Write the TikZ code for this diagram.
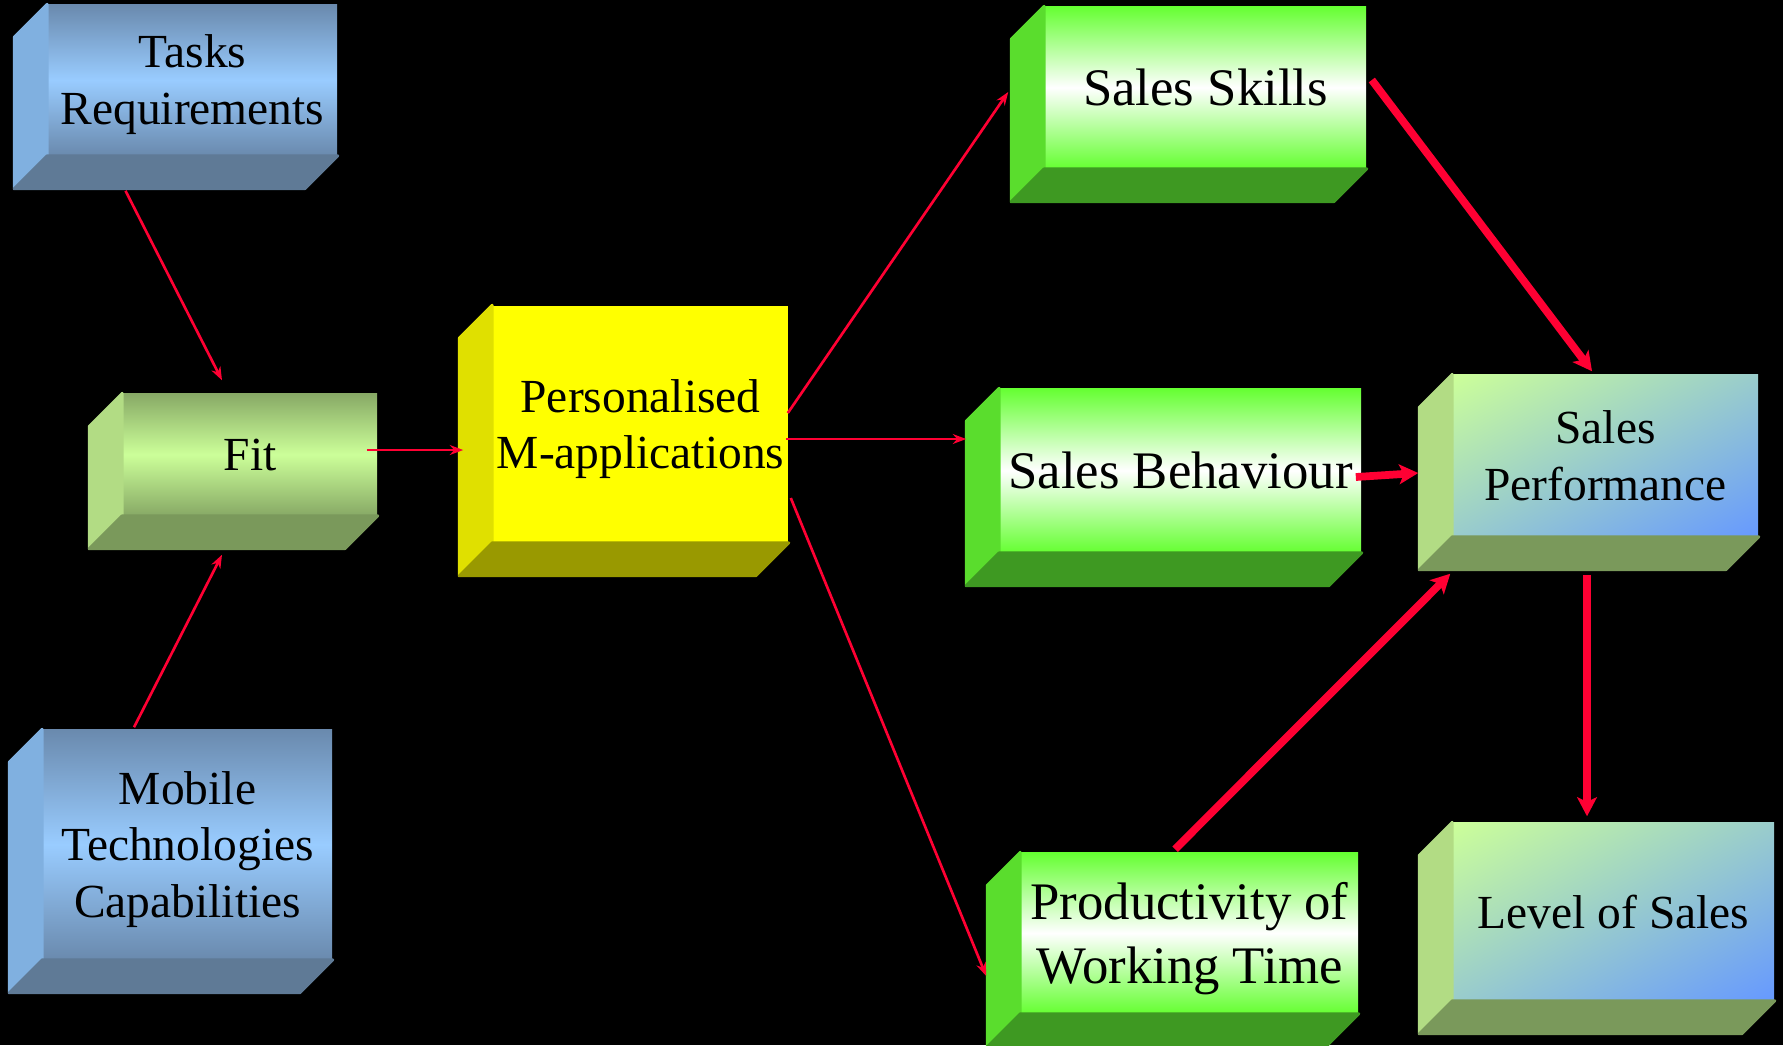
\documentclass[tikz,border=0pt]{standalone}
\usepackage{fontspec}
\setmainfont{Liberation Serif}
\usepackage{tikz}
\usetikzlibrary{arrows.meta,shadings}

\definecolor{bluemid}{HTML}{99CCFF}
\definecolor{blueedge}{HTML}{6A8AAE}
\definecolor{blueside}{HTML}{80B0E0}
\definecolor{bluefoot}{HTML}{5F7A96}
\definecolor{limemid}{HTML}{CCFF99}
\definecolor{limeedge}{HTML}{88AA66}
\definecolor{limeside}{HTML}{B2DC84}
\definecolor{limefoot}{HTML}{7A995B}
\definecolor{yelfront}{HTML}{FFFF00}
\definecolor{yelside}{HTML}{E0E000}
\definecolor{yelfoot}{HTML}{999900}
\definecolor{grnedge}{HTML}{66FF33}
\definecolor{grnside}{HTML}{5ADD2D}
\definecolor{grnfoot}{HTML}{3E9922}
\definecolor{perfmix}{HTML}{99CCCC}
\definecolor{perfblue}{HTML}{6699FF}
\definecolor{arrred}{HTML}{FF0033}

\tikzset{
  face/.style={inner sep=0pt, align=center, text depth=0pt,
    font=\fontsize{13.5}{16.2}\selectfont},
  bluebox/.style={face, top color=blueedge, bottom color=blueedge, middle color=bluemid},
  fitbox/.style={face, top color=limeedge, bottom color=limeedge, middle color=limemid},
  yellowbox/.style={face, fill=yelfront},
  greenbox/.style={face, top color=grnedge, bottom color=grnedge, middle color=white,
    font=\fontsize{15}{18.2}\selectfont},
  perfbox/.style={face, upper left=limemid, upper right=perfmix, lower left=perfmix,
    lower right=perfblue},
  thinarr/.style={draw=arrred, line width=0.75pt, -{Stealth[length=3.8pt,width=2.8pt]}},
  thickarr/.style={draw=arrred, line width=2.2pt, -{Stealth[length=5.4pt,width=5.6pt,inset=1.3pt]}}
}

% left and bottom faces of a box, #1 = front node
\newcommand{\boxsides}[3]{%
  \filldraw[#2, line width=0.8pt, line join=round] (#1.north west) -- (#1.south west) -- ++(-33,33)
    -- ([shift={(-33,33)}]#1.north west) -- cycle;
  \filldraw[#3, line width=0.8pt, line join=round] (#1.south west) -- (#1.south east) -- ++(-33,33)
    -- ([shift={(-33,33)}]#1.south west) -- cycle;
}

\begin{document}
\begin{tikzpicture}[x=0.01cm,y=-0.01cm]
\useasboundingbox (0,0) rectangle (1783,1045);
\fill[black] (0,0) rectangle (1783,1045);

% inputs
\node[bluebox, minimum width=2.89cm, minimum height=1.5cm] (tasks) at (192.5,80) {Tasks\\Requirements};
\boxsides{tasks}{blueside}{bluefoot}
\node[fitbox, minimum width=2.54cm, minimum height=1.21cm] (fit) at (250,454.5) {Fit};
\boxsides{fit}{limeside}{limefoot}
\node[bluebox, minimum width=2.89cm, minimum height=2.29cm] (mobile) at (187.5,844.5) {Mobile\\Technologies\\Capabilities};
\boxsides{mobile}{blueside}{bluefoot}

\node[yellowbox, minimum width=2.95cm, minimum height=2.36cm] (pers) at (640.5,424) {Personalised\\M-applications};
\boxsides{pers}{yelside}{yelfoot}

% outcomes
\node[greenbox, minimum width=3.21cm, minimum height=1.61cm] (skills) at (1205.5,87.5) {Sales Skills};
\boxsides{skills}{grnside}{grnfoot}
\node[greenbox, minimum width=3.61cm, minimum height=1.63cm] (behav) at (1180.5,470.5) {Sales Behaviour};
\boxsides{behav}{grnside}{grnfoot}
\node[greenbox, minimum width=3.37cm, minimum height=1.6cm] (prod) at (1189.5,933) {Productivity of\\Working Time};
\boxsides{prod}{grnside}{grnfoot}

\node[perfbox, minimum width=3.05cm, minimum height=1.61cm] (perf) at (1605.5,455.5) {Sales\\Performance};
\boxsides{perf}{limeside}{limefoot}
\node[perfbox, minimum width=3.21cm, minimum height=1.77cm] (level) at (1613.5,911.5) {Level of Sales};
\boxsides{level}{limeside}{limefoot}

% thin links
\draw[thinarr] ([shift={(-67,35)}]tasks.south) -- ([shift={(-28,-13)}]fit.north);
\draw[thinarr] ([shift={(-53.5,-2)}]mobile.north) -- ([shift={(-28,39)}]fit.south);
\draw[thinarr] ([shift={(-11,-4.5)}]fit.east) -- ([shift={(-29,26)}]pers.west);
\draw[thinarr] ([shift={(-1,-11)}]pers.east) -- ([shift={(-36,4.5)}]skills.west);
\draw[thinarr] ([shift={(-3,15)}]pers.east) -- ([shift={(-33,-31.5)}]behav.west);
\draw[thinarr] ([shift={(2,74)}]pers.east) -- ([shift={(-34,43)}]prod.west);

% thick links
\draw[thickarr] ([shift={(5,-7.5)}]skills.east) -- ([shift={(-13.5,-3)}]perf.north);
\draw[thickarr] ([shift={(-6,6.5)}]behav.east) -- ([shift={(-34,17.5)}]perf.west);
\draw[thickarr] ([shift={(-14.5,-3)}]prod.north) -- ([shift={(-2,37)}]perf.south west);
\draw[thickarr] ([shift={(-18.5,38)}]perf.south) -- ([shift={(-26.5,-6)}]level.north);
\end{tikzpicture}
\end{document}
